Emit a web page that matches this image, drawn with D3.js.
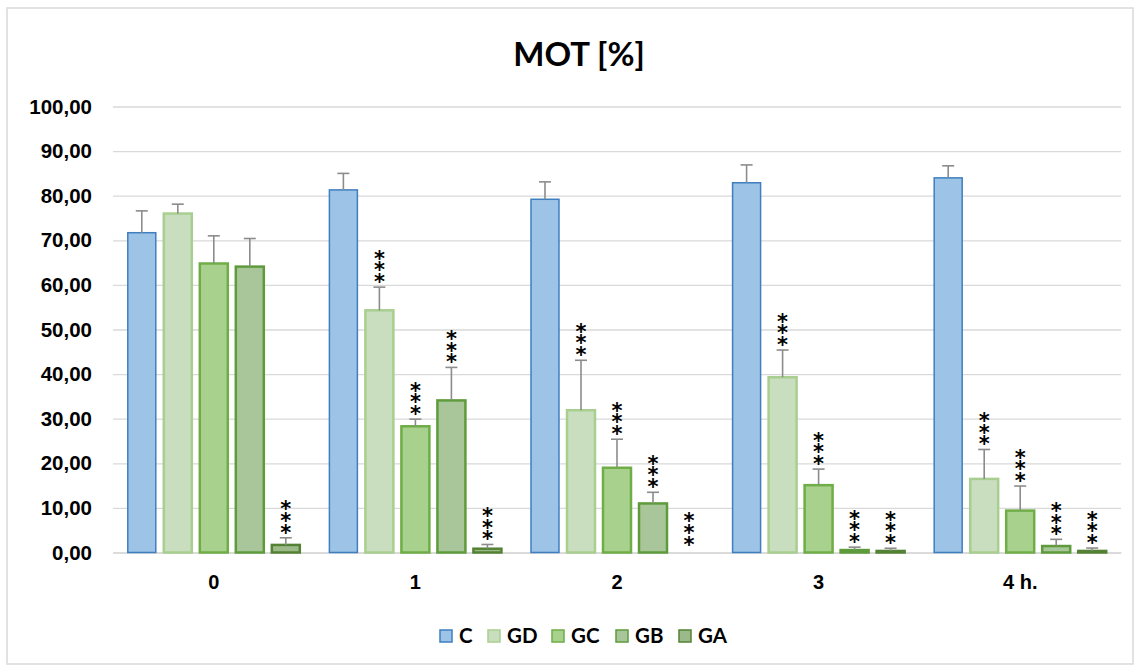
<!DOCTYPE html>
<html lang="en">
<head>
<meta charset="UTF-8">
<title>MOT [%]</title>
<script src="https://d3js.org/d3.v7.min.js"></script>
<style>
    body { margin: 0; background: #fff; }
    svg { display: block; font-family: Lato, "Open Sans", sans-serif; }
    .tick text { font-weight: bold; fill: #000; }
</style>
</head>
<body>
<div id="chart"></div>
<script>
    // time points and groups
    const categories = ["0", "1", "2", "3", "4 h."];
    const seriesNames = ["C", "GD", "GC", "GB", "GA"];

    // mean values per group
    const valuesC  = [71.7, 81.3, 79.2, 82.9, 84.0];
    const valuesGD = [76.0, 54.3, 31.9, 39.3, 16.5];
    const valuesGC = [64.8, 28.3, 19.0, 15.1, 9.4];
    const valuesGB = [64.1, 34.1, 11.0, 0.55, 1.45];
    const valuesGA = [1.7, 0.85, 0, 0.35, 0.35];

    // error (upper) per group
    const errC  = [4.9, 3.7, 3.9, 4.0, 2.7];
    const errGD = [2.1, 5.2, 11.2, 6.1, 6.6];
    const errGC = [6.2, 1.6, 6.4, 3.6, 5.5];
    const errGB = [6.3, 7.4, 2.5, 0.65, 1.5];
    const errGA = [1.6, 0.95, 0, 0.6, 0.65];

    // significance marks
    const sigC  = [false, false, false, false, false];
    const sigGD = [false, true, true, true, true];
    const sigGC = [false, true, true, true, true];
    const sigGB = [false, true, true, true, true];
    const sigGA = [true, true, true, true, true];

    const yTicks = [0, 10, 20, 30, 40, 50, 60, 70, 80, 90, 100];

    const styles = {
        C:  { fill: "#9dc3e6", stroke: "#3f7fc0" },
        GD: { fill: "#c9ddbf", stroke: "#a8cf8f" },
        GC: { fill: "#a9d18e", stroke: "#6fad47" },
        GB: { fill: "#a8c699", stroke: "#5e9c3b" },
        GA: { fill: "#9cb98a", stroke: "#548235" }
    };

    const allValues = [valuesC, valuesGD, valuesGC, valuesGB, valuesGA];
    const allErr = [errC, errGD, errGC, errGB, errGA];
    const allSig = [sigC, sigGD, sigGC, sigGB, sigGA];

    const width = 1141;
    const height = 670;
    const margin = { top: 106.5, right: 20, bottom: 117.5, left: 113 };

    const svg = d3.select("#chart")
        .append("svg")
        .attr("width", width)
        .attr("height", height);

    // outer frame
    svg.append("rect")
        .attr("x", 7).attr("y", 8)
        .attr("width", 1126).attr("height", 656)
        .attr("fill", "#fff")
        .attr("stroke", "#d9d9d9")
        .attr("stroke-width", 1.5);

    svg.append("text")
        .attr("x", 579).attr("y", 66)
        .attr("text-anchor", "middle")
        .style("font-size", "33px")
        .style("font-weight", "bold")
        .text("MOT [%]");

    const x0 = d3.scaleBand()
        .domain(categories)
        .range([margin.left, margin.left + 201.6 * categories.length]);

    const x1 = d3.scaleBand()
        .domain(seriesNames)
        .range([0, x0.bandwidth()])
        .paddingInner(0.167)
        .paddingOuter(0.383);

    const y = d3.scaleLinear()
        .domain([0, 100])
        .range([height - margin.bottom, margin.top]);

    // gridlines + y labels
    const yAxis = svg.append("g")
        .attr("transform", `translate(${margin.left},0)`)
        .call(d3.axisLeft(y)
            .tickValues(yTicks)
            .tickSize(-(x0.range()[1] - margin.left))
            .tickPadding(21)
            .tickFormat(d => d3.format(".2f")(d).replace(".", ",")));
    yAxis.select(".domain").remove();
    yAxis.selectAll(".tick line").attr("stroke", "#d9d9d9").attr("stroke-width", 1.3);
    yAxis.selectAll(".tick text").style("font-size", "20.5px");

    // x labels
    const xAxis = svg.append("g")
        .attr("transform", `translate(0,${y(0)})`)
        .call(d3.axisBottom(x0).tickSize(0).tickPadding(22));
    xAxis.select(".domain").attr("stroke", "#d9d9d9").attr("stroke-width", 1.5);
    xAxis.selectAll(".tick text").style("font-size", "20px");

    const rows = [];
    seriesNames.forEach((s, si) => {
        categories.forEach((c, ci) => {
            rows.push({ series: s, cat: c, value: allValues[si][ci], err: allErr[si][ci], sig: allSig[si][ci] });
        });
    });

    const bars = svg.append("g");

    bars.selectAll("rect")
        .data(rows.filter(d => d.value > 0))
        .enter()
        .append("rect")
        .attr("x", d => x0(d.cat) + x1(d.series) + 1)
        .attr("width", x1.bandwidth() - 2)
        .attr("y", d => y(d.value))
        .attr("height", d => y(0) - y(d.value))
        .attr("fill", d => styles[d.series].fill)
        .attr("stroke", d => styles[d.series].stroke)
        .attr("stroke-width", d => d.series === "C" ? 1.5 : 2.5);

    // error bars
    const errG = svg.append("g")
        .attr("stroke", "#8c8c8c")
        .attr("stroke-width", 1.6);

    rows.filter(d => d.err > 0).forEach(d => {
        const cx = x0(d.cat) + x1(d.series) + x1.bandwidth() / 2;
        errG.append("line")
            .attr("x1", cx).attr("x2", cx)
            .attr("y1", y(d.value)).attr("y2", y(d.value + d.err));
        errG.append("line")
            .attr("x1", cx - 6).attr("x2", cx + 6)
            .attr("y1", y(d.value + d.err)).attr("y2", y(d.value + d.err));
    });

    // significance stars, stacked vertically
    const starStep = 11.7;
    const starG = svg.append("g")
        .style("font-family", "'DejaVu Sans', sans-serif")
        .style("font-size", "21px")
        .style("font-weight", "bold")
        .attr("text-anchor", "middle");

    rows.filter(d => d.sig).forEach(d => {
        const cx = x0(d.cat) + x1(d.series) + x1.bandwidth() / 2;
        const bottom = y(d.value + d.err) - (d.err > 0 ? 10.5 : 13);
        [0, 1, 2].forEach(k => {
            starG.append("text")
                .attr("x", cx)
                .attr("y", bottom - k * starStep)
                .attr("dy", "0.59em")
                .text("*");
        });
    });

    // legend
    const legendX = [439, 487, 551, 615, 678];
    const legend = svg.append("g");
    seriesNames.forEach((s, i) => {
        legend.append("rect")
            .attr("x", legendX[i] + 1).attr("y", 630)
            .attr("width", 12).attr("height", 12)
            .attr("fill", styles[s].fill)
            .attr("stroke", styles[s].stroke)
            .attr("stroke-width", 1.5);
        legend.append("text")
            .attr("x", legendX[i] + 20)
            .attr("y", 643)
            .style("font-size", "20.5px")
            .style("font-weight", "bold")
            .text(s);
    });
</script>
</body>
</html>
